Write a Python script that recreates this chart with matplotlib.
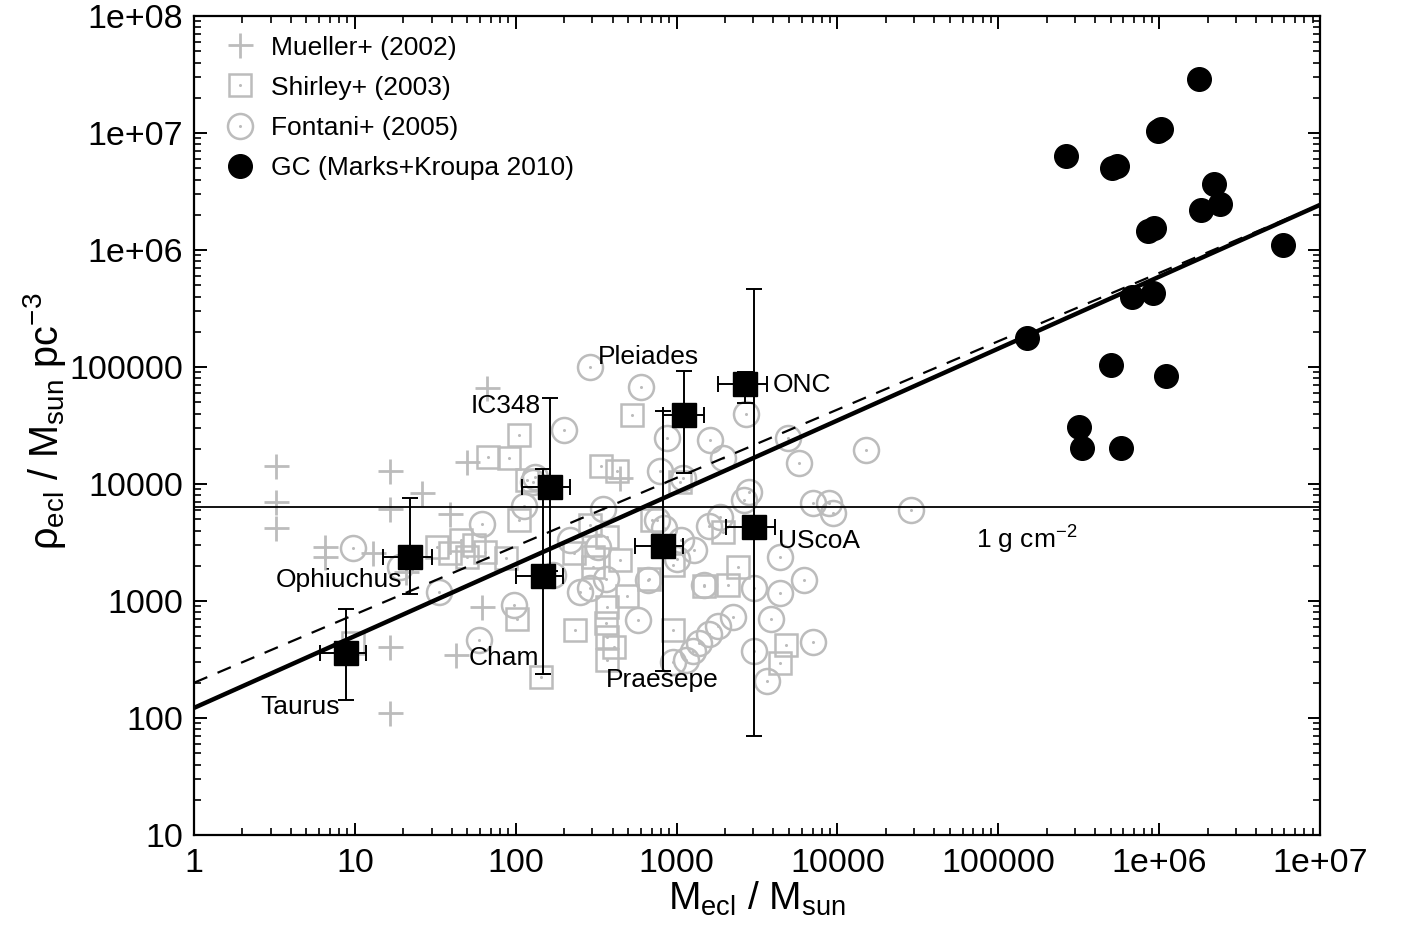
import matplotlib
matplotlib.use('Agg')
import matplotlib.pyplot as plt
import numpy as np
from matplotlib.legend_handler import HandlerTuple
from matplotlib.ticker import FixedLocator, LogLocator, NullFormatter

plt.rcParams['font.family'] = ['Liberation Sans', 'DejaVu Sans']
plt.rcParams['mathtext.fontset'] = 'custom'
plt.rcParams['mathtext.rm'] = 'Liberation Sans'
plt.rcParams['mathtext.it'] = 'Liberation Sans:italic'
plt.rcParams['mathtext.default'] = 'regular'

# ---------------- data (log10 values) ----------------
mueller_log_mass = [0.51, 0.51, 0.51, 1.22, 1.22, 1.42, 1.59, 0.815, 0.815, 1.11,
                    1.32, 1.22, 1.22, 1.70, 1.79, 1.63, 2.65, 1.82]
mueller_log_rho = [4.15, 3.85, 3.62, 4.11, 3.79, 3.92, 3.74, 3.46, 3.38, 3.41,
                   3.25, 2.61, 2.04, 4.19, 2.95, 2.54, 4.05, 4.82]

shirley_log_mass = [2.72, 2.02, 1.83, 1.96, 2.53, 2.63, 2.02, 1.51, 1.66, 1.74,
                    1.81, 1.59, 1.70, 2.36, 2.57, 2.65, 2.48, 2.48, 2.57, 2.69,
                    2.56, 2.57, 2.61, 2.57, 2.37, 2.01, 2.16, 2.85, 3.29, 3.38,
                    3.17, 3.32, 2.83, 2.98, 3.68, 3.64, 3.02, 1.94, 2.46, 0.99,
                    2.98, 2.07]
shirley_log_rho = [4.59, 4.42, 4.23, 4.22, 4.15, 4.11, 3.69, 3.46, 3.52, 3.48,
                   3.42, 3.41, 3.38, 3.41, 3.55, 3.35, 3.38, 3.29, 2.95, 3.04,
                   2.81, 2.69, 2.61, 2.50, 2.75, 2.85, 2.35, 3.69, 3.59, 3.29,
                   3.13, 3.14, 3.19, 2.75, 2.62, 2.47, 4.02, 3.37, 3.65, 2.64,
                   3.31, 4.03]

fontani_log_mass = [0.99, 1.28, 1.52, 2.46, 2.78, 2.30, 2.12, 2.11, 2.05, 1.79,
                    2.34, 2.54, 2.51, 2.56, 2.46, 2.40, 2.82, 2.76, 1.99, 1.77,
                    2.23, 2.90, 2.88, 2.94, 3.21, 3.29, 3.43, 3.76, 3.69, 3.45,
                    3.42, 3.85, 3.95, 3.97, 3.64, 3.27, 3.20, 3.11, 2.92, 3.03,
                    3.00, 3.17, 3.48, 3.64, 3.79, 3.35, 3.26, 3.20, 3.14, 3.10,
                    3.06, 2.98, 3.59, 3.48, 3.85, 3.56, 4.18, 4.46, 3.04]
fontani_log_rho = [3.45, 3.29, 3.08, 5.00, 4.83, 4.46, 4.06, 4.02, 3.81, 3.66,
                   3.52, 3.79, 3.46, 3.19, 3.11, 3.08, 3.18, 2.84, 2.97, 2.67,
                   3.22, 4.11, 3.69, 4.39, 4.38, 4.22, 4.60, 4.18, 4.39, 3.93,
                   3.86, 3.84, 3.84, 3.75, 3.38, 3.72, 3.64, 3.44, 3.62, 3.52,
                   3.36, 3.14, 3.11, 3.07, 3.18, 2.86, 2.79, 2.72, 2.64, 2.57,
                   2.50, 2.48, 2.85, 2.57, 2.65, 2.32, 4.29, 3.78, 4.05]

gc_log_mass = [6.25, 5.99, 6.01, 5.42, 5.71, 5.74, 6.34, 6.38, 6.26, 5.93,
               5.97, 6.77, 5.96, 5.83, 5.18, 5.70, 6.04, 5.50, 5.52, 5.76]
gc_log_rho = [7.46, 7.02, 7.03, 6.80, 6.70, 6.72, 6.56, 6.39, 6.34, 6.16,
              6.19, 6.04, 5.63, 5.60, 5.25, 5.02, 4.92, 4.49, 4.31, 4.31]

cluster_names = ['Taurus', 'Ophiuchus', 'IC348', 'Cham', 'Pleiades',
                 'Praesepe', 'ONC', 'UScoA']
cluster_mass = [8.8, 22, 164, 148, 1110, 820, 2680, 3020]
cluster_mass_lo = [6.1, 15, 109, 100, 826, 550, 1805, 2015]
cluster_mass_hi = [11.7, 30, 219, 198, 1477, 1100, 3630, 4065]
cluster_rho = [360, 2375, 9480, 1640, 38900, 2950, 71100, 4310]
cluster_rho_lo = [143, 1150, 1800, 238, 12300, 252, 49000, 70]
cluster_rho_hi = [855, 7590, 54300, 13400, 92500, 42000, 91200, 464000]

fit_mass = [1, 1e7]
fit_rho_solid = [122, 2.43e6]
fit_rho_dashed = [200, 2.44e6]
surface_density_rho = 6300  # 1 g cm^-2

x_ticks = [1, 10, 100, 1000, 10000, 100000, 1e6, 1e7]
x_ticklabels = ['1', '10', '100', '1000', '10000', '100000', '1e+06', '1e+07']
y_ticks = [10, 100, 1000, 10000, 100000, 1e6, 1e7, 1e8]
y_ticklabels = ['10', '100', '1000', '10000', '100000', '1e+06', '1e+07', '1e+08']

# ---------------- figure ----------------
W, H = 1409, 932
fig = plt.figure(figsize=(W / 100, H / 100), dpi=100)
ax = fig.add_axes([194 / W, 1 - 835 / H, 1126 / W, 819 / H])
ax.set_xscale('log')
ax.set_yscale('log')

gray = '#bcbcbc'

h_mu, = ax.plot(10 ** np.array(mueller_log_mass), 10 ** np.array(mueller_log_rho),
                ls='none', marker='+', ms=18, mew=2.0, color=gray, zorder=2)
h_sh, = ax.plot(10 ** np.array(shirley_log_mass), 10 ** np.array(shirley_log_rho),
                ls='none', marker='s', ms=16.5, mew=1.8, mfc='none', mec=gray, zorder=2)
h_shd, = ax.plot(10 ** np.array(shirley_log_mass), 10 ** np.array(shirley_log_rho),
                 ls='none', marker='o', ms=2.2, mew=0, color=gray, zorder=2)
h_fo, = ax.plot(10 ** np.array(fontani_log_mass), 10 ** np.array(fontani_log_rho),
                ls='none', marker='o', ms=18, mew=1.8, mfc='none', mec=gray, zorder=2)
h_fod, = ax.plot(10 ** np.array(fontani_log_mass), 10 ** np.array(fontani_log_rho),
                 ls='none', marker='o', ms=2.2, mew=0, color=gray, zorder=2)

ax.axhline(surface_density_rho, color='k', lw=1.3, zorder=3)
ax.plot(fit_mass, fit_rho_dashed, color='k', lw=1.6, dashes=(6.5, 5), zorder=3)
ax.plot(fit_mass, fit_rho_solid, color='k', lw=3.2, zorder=3)

h_gc, = ax.plot(10 ** np.array(gc_log_mass), 10 ** np.array(gc_log_rho),
                ls='none', marker='o', ms=17, color='k', zorder=4)

cm = np.array(cluster_mass, float)
cr = np.array(cluster_rho, float)
xerr = [cm - np.array(cluster_mass_lo), np.array(cluster_mass_hi) - cm]
yerr = [cr - np.array(cluster_rho_lo), np.array(cluster_rho_hi) - cr]
ax.errorbar(cm, cr, xerr=xerr, yerr=yerr, fmt='s', ms=17, color='k',
            ecolor='k', elinewidth=1.4, capsize=6, capthick=1.4, zorder=5)

# cluster labels
fs_lab = 19
ax.text(8.1, 124, 'Taurus', ha='right', va='center', fontsize=fs_lab, zorder=6)
ax.text(19.7, 1512, 'Ophiuchus', ha='right', va='center', fontsize=fs_lab, zorder=6)
ax.text(144, 46400, 'IC348', ha='right', va='center', fontsize=fs_lab, zorder=6)
ax.text(140, 326, 'Cham', ha='right', va='center', fontsize=fs_lab, zorder=6)
ax.text(668, 1.22e5, 'Pleiades', ha='center', va='center', fontsize=fs_lab, zorder=6)
ax.text(817, 211, 'Praesepe', ha='center', va='center', fontsize=fs_lab, zorder=6)
ax.text(3950, 70200, 'ONC', ha='left', va='center', fontsize=fs_lab, zorder=6)
ax.text(4245, 3258, 'UScoA', ha='left', va='center', fontsize=fs_lab, zorder=6)
ax.text(72400, 3320, '1 g cm$^{-2}$', ha='left', va='center', fontsize=fs_lab, zorder=6)

ax.set_xlim(1, 1e7)
ax.set_ylim(10, 1e8)
ax.xaxis.set_major_locator(FixedLocator(x_ticks))
ax.set_xticklabels(x_ticklabels)
ax.yaxis.set_major_locator(FixedLocator(y_ticks))
ax.set_yticklabels(y_ticklabels)
ax.xaxis.set_minor_locator(LogLocator(base=10, subs=np.arange(2, 10), numticks=20))
ax.yaxis.set_minor_locator(LogLocator(base=10, subs=np.arange(2, 10), numticks=20))
ax.xaxis.set_minor_formatter(NullFormatter())
ax.yaxis.set_minor_formatter(NullFormatter())
ax.tick_params(which='both', direction='in', top=True, right=True)
ax.tick_params(which='major', length=9, width=1.4, labelsize=24.5)
ax.tick_params(axis='x', which='major', pad=9)
ax.tick_params(axis='y', which='major', pad=8)
ax.tick_params(which='minor', length=5, width=1.2)
for s in ax.spines.values():
    s.set_linewidth(1.6)

fig.text(757 / W, 1 - 899 / H, 'M$_{\\rm ecl}$ / M$_{\\rm sun}$',
         ha='center', va='center', fontsize=28)
fig.text(45 / W, 1 - 421 / H, 'ρ$_{\\rm ecl}$ / M$_{\\rm sun}$ pc$^{-3}$',
         ha='center', va='center', rotation=90, fontsize=28.5)

leg = ax.legend([h_mu, (h_sh, h_shd), (h_fo, h_fod), h_gc],
                ['Mueller+ (2002)', 'Shirley+ (2003)', 'Fontani+ (2005)',
                 'GC (Marks+Kroupa 2010)'],
                handler_map={tuple: HandlerTuple(ndivide=1)},
                loc='upper left', bbox_to_anchor=(0.017, 0.989), borderaxespad=0,
                frameon=False, fontsize=19, handlelength=1.2, handletextpad=0.6,
                labelspacing=0.61, numpoints=1)

fig.savefig('out.png', dpi=100)
